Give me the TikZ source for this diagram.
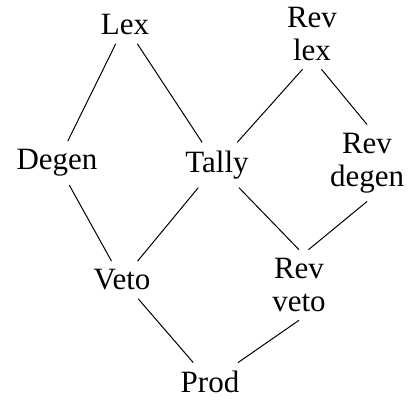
\documentclass[tikz,border=0pt]{standalone}
\usepackage{fontspec}
\setmainfont{Liberation Serif}
\begin{document}
\begin{tikzpicture}[x=0.5pt, y=-0.5pt, line width=0.5pt,
  word/.style={align=center, inner sep=4pt, font=\fontsize{15.5}{16.5}\selectfont}]
\useasboundingbox (0,0) rectangle (410,400);
\node [word] (lex) at (125,25) {Lex};
\node [word] (revlex) at (312,34) {Rev\\lex};
\node [word] (degen) at (57,163) {Degen};
\node [word] (tally) at (217,165) {Tally};
\node [word] (revdegen) at (367,163) {Rev\\degen};
\node [word] (veto) at (122,280) {Veto};
\node [word] (revveto) at (299,285) {Rev\\veto};
\node [word] (prod) at (210,382) {Prod};
\draw (lex) -- (degen);
\draw (lex) -- (tally);
\draw (revlex.255) -- (tally);
\draw (revlex.285) -- (revdegen.north);
\draw (degen) -- (veto);
\draw (tally) -- (veto);
\draw (tally) -- (revveto.north);
\draw (revdegen.south) -- (revveto.75);
\draw (veto) -- (prod);
\draw (revveto.south) -- (prod);
\end{tikzpicture}
\end{document}
